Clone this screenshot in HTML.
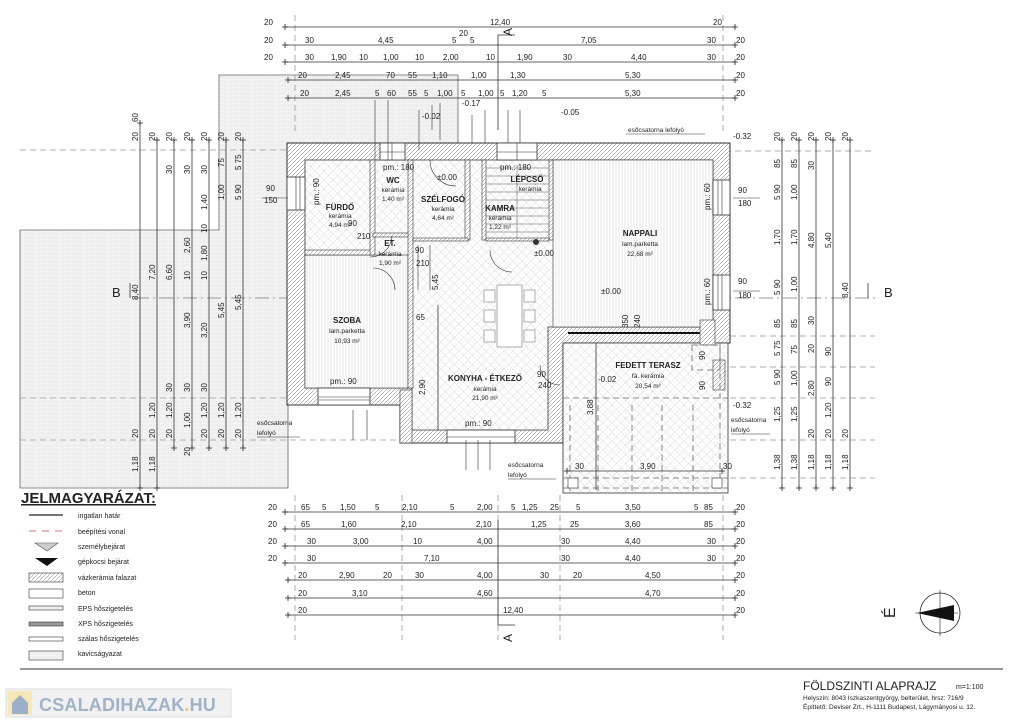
<!DOCTYPE html>
<html><head><meta charset="utf-8"><style>
html,body{margin:0;padding:0;background:#fff}
svg{display:block}
text{font-family:"Liberation Sans",sans-serif;fill:#222}
.t{font-size:8px}
.s{font-size:6.5px}
.b{font-size:8px;font-weight:bold}
.d{stroke:#333;stroke-width:0.8}
.g{stroke:#999;stroke-width:0.8;stroke-dasharray:6 4;fill:none}
</style></head><body>
<svg width="1024" height="723" viewBox="0 0 1024 723" xmlns="http://www.w3.org/2000/svg">
<defs>
<pattern id="grav" width="6" height="4" patternUnits="userSpaceOnUse"><rect width="6" height="4" fill="#f5f5f5"/><path d="M0 0H6M0 2H6M0 0V2M3 2V4" stroke="#e0e0e0" stroke-width="0.5"/></pattern>
<pattern id="wall" width="4" height="4" patternUnits="userSpaceOnUse"><rect width="4" height="4" fill="#fff"/><path d="M-1 5L5 -1" stroke="#777" stroke-width="0.5"/></pattern>
<pattern id="cross" width="9" height="9" patternUnits="userSpaceOnUse"><rect width="9" height="9" fill="#fff"/><path d="M0 0L9 9M9 0L0 9" stroke="#d4d4d4" stroke-width="0.5"/></pattern>
<pattern id="parq" width="3" height="10" patternUnits="userSpaceOnUse"><rect width="3" height="10" fill="#fff"/><path d="M1 0V10" stroke="#d0d0d0" stroke-width="0.5"/></pattern>
<marker id="tk" markerWidth="6" markerHeight="6" refX="3" refY="3" markerUnits="userSpaceOnUse"><path d="M0 3H6M3 0V6" stroke="#222" stroke-width="0.8"/></marker>
</defs>

<polygon points="20,230 219,230 219,75 458,75 458,143 288,143 288,488 20,488" fill="url(#grav)" stroke="#666" stroke-width="0.8"/>

<g class="g">
<line x1="20" y1="150" x2="290" y2="150"/><line x1="725" y1="151" x2="875" y2="151"/>
<line x1="20" y1="398" x2="290" y2="398"/><line x1="720" y1="398" x2="875" y2="398"/>
<line x1="20" y1="440" x2="400" y2="440"/><line x1="720" y1="440" x2="875" y2="440"/>
<line x1="720" y1="336" x2="875" y2="336"/><line x1="720" y1="367" x2="875" y2="367"/><line x1="720" y1="478" x2="875" y2="478"/>
<line x1="295" y1="15" x2="295" y2="135"/><line x1="723" y1="15" x2="723" y2="135"/>
<line x1="295" y1="495" x2="295" y2="640"/><line x1="402" y1="495" x2="402" y2="640"/><line x1="560" y1="495" x2="560" y2="640"/><line x1="723" y1="495" x2="723" y2="640"/>
<line x1="498" y1="495" x2="498" y2="640"/>
</g>
<line x1="135" y1="298" x2="875" y2="298" stroke="#777" stroke-width="0.8" stroke-dasharray="14 4 2 4"/>
<text x="112" y="297" style="font-size:13px">B</text><text x="884" y="297" style="font-size:13px">B</text>
<path d="M130 298V283M868 298V283" stroke="#333" stroke-width="0.8"/>
<path d="M498 35H515M498 35V130" stroke="#333" stroke-width="0.8"/>
<path d="M498 625H515M498 520V625" stroke="#333" stroke-width="0.8"/>
<text class="t" transform="rotate(-90 512 36)" x="512" y="36" style="font-size:12px">A</text>
<text class="t" transform="rotate(-90 512 642)" x="512" y="642" style="font-size:12px">A</text>

<polygon points="287,143 730,143 730,343 563,343 563,443 400,443 400,405 287,405" fill="url(#wall)" stroke="#333" stroke-width="1"/>
<polygon points="305,160 713,160 713,327 548,327 548,430 412,430 412,388 305,388" fill="url(#cross)" stroke="#333" stroke-width="0.8"/>
<rect x="305" y="255" width="103" height="133" fill="url(#parq)" stroke="#333" stroke-width="0.6"/>
<rect x="553" y="160" width="160" height="167" fill="url(#parq)" stroke="#333" stroke-width="0.6"/>
<g fill="url(#wall)" stroke="#333" stroke-width="0.6">
<rect x="305" y="250" width="68" height="5"/>
<rect x="370" y="160" width="5" height="95"/>
<rect x="408" y="160" width="5" height="228"/>
<rect x="373" y="233" width="35" height="4"/>
<rect x="465" y="160" width="5" height="80"/>
<rect x="482" y="160" width="4" height="80"/>
<rect x="549" y="160" width="4" height="80"/>
<rect x="413" y="238" width="55" height="3"/>
<rect x="486" y="238" width="63" height="3"/>
<rect x="400" y="390" width="12" height="53"/>
</g>
<g stroke="#555" stroke-width="0.5">
<line x1="486" y1="168" x2="549" y2="168"/><line x1="486" y1="176" x2="549" y2="176"/><line x1="486" y1="184" x2="549" y2="184"/><line x1="486" y1="192" x2="549" y2="192"/><line x1="486" y1="200" x2="549" y2="200"/><line x1="486" y1="208" x2="549" y2="208"/><line x1="486" y1="216" x2="549" y2="216"/><line x1="486" y1="224" x2="549" y2="224"/><line x1="486" y1="232" x2="549" y2="232"/>
<line x1="517" y1="165" x2="517" y2="238"/>
</g>
<circle cx="536" cy="242" r="3" fill="#333"/>
<g fill="#fff" stroke="#333" stroke-width="0.8">
<rect x="287" y="177" width="18" height="33"/>
<rect x="380" y="143" width="25" height="17"/>
<rect x="497" y="143" width="40" height="17"/>
<rect x="713" y="180" width="17" height="35"/>
<rect x="713" y="275" width="17" height="35"/>
<rect x="318" y="388" width="52" height="17"/>
<rect x="447" y="430" width="68" height="13"/>
</g>
<g stroke="#333" stroke-width="0.6" fill="none">
<path d="M296 177V210M300 177V210M392 143V160M380 152H405M517 143V160M497 152H537M722 180V215M718 180V215M722 275V310M718 275V310M318 397H370M318 400H370M447 437H515"/>
<path d="M370 257A22 22 0 0 0 392 236M373 268A22 22 0 0 1 395 290M430 160A26 26 0 0 0 456 186M490 250A22 22 0 0 0 512 272M540 365A20 20 0 0 0 560 385"/>
</g>
<g fill="#fff" stroke="#999" stroke-width="0.8">
<rect x="497" y="285" width="25" height="62"/>
<rect x="484" y="290" width="11" height="12"/><rect x="484" y="310" width="11" height="12"/><rect x="484" y="330" width="11" height="12"/>
<rect x="524" y="290" width="11" height="12"/><rect x="524" y="310" width="11" height="12"/><rect x="524" y="330" width="11" height="12"/>
</g>

<rect x="563" y="343" width="165" height="150" fill="url(#cross)" stroke="#333" stroke-width="0.8"/>
<line x1="568" y1="333" x2="700" y2="333" stroke="#111" stroke-width="2"/>
<rect x="700" y="320" width="15" height="25" fill="url(#wall)" stroke="#333" stroke-width="0.6"/>
<rect x="713" y="360" width="12" height="30" fill="url(#wall)" stroke="#333" stroke-width="0.6"/>
<g class="g" style="stroke:#666">
<line x1="563" y1="398" x2="728" y2="398"/><line x1="563" y1="478" x2="728" y2="478"/><line x1="563" y1="488" x2="728" y2="488"/>
<line x1="570" y1="405" x2="570" y2="493"/><line x1="598" y1="405" x2="598" y2="493"/><line x1="632" y1="405" x2="632" y2="493"/><line x1="662" y1="405" x2="662" y2="493"/><line x1="693" y1="405" x2="693" y2="493"/><line x1="720" y1="343" x2="720" y2="493"/>
<rect x="692" y="345" width="28" height="25"/>
</g>
<rect x="568" y="478" width="10" height="10" fill="#fff" stroke="#333" stroke-width="0.6"/>
<rect x="712" y="478" width="10" height="10" fill="#fff" stroke="#333" stroke-width="0.6"/>
<line x1="567" y1="471" x2="722" y2="471" class="d" marker-start="url(#tk)" marker-end="url(#tk)"/>
<text class="t" x="575" y="469">30</text><text class="t" x="640" y="469">3,90</text><text class="t" x="723" y="469">30</text>
<line x1="596" y1="343" x2="596" y2="490" class="d"/>
<text class="t" transform="rotate(-90 593 415)" x="593" y="415">3,88</text>
<text class="t" transform="rotate(-90 628 328)" x="628" y="328">350</text>
<text class="t" transform="rotate(-90 640 328)" x="640" y="328">240</text>
<text class="t" transform="rotate(-90 705 360)" x="705" y="360">90</text>
<text class="t" transform="rotate(-90 705 390)" x="705" y="390">90</text>

<g text-anchor="middle">
<text class="b" x="340" y="210">FÜRDŐ</text><text class="s" x="340" y="218">kerámia</text><text class="s" x="340" y="227">4,94 m²</text>
<text class="b" x="393" y="183">WC</text><text class="s" x="393" y="192">kerámia</text><text class="s" x="393" y="201">1,40 m²</text>
<text class="b" x="443" y="202">SZÉLFOGÓ</text><text class="s" x="443" y="211">kerámia</text><text class="s" x="443" y="220">4,64 m²</text>
<text class="b" x="527" y="182">LÉPCSŐ</text><text class="s" x="530" y="191">kerámia</text>
<text class="b" x="500" y="211">KAMRA</text><text class="s" x="500" y="220">kerámia</text><text class="s" x="500" y="229">1,22 m²</text>
<text class="b" x="640" y="236">NAPPALI</text><text class="s" x="640" y="246">lam.parketta</text><text class="s" x="640" y="256">22,68 m²</text>
<text class="b" x="390" y="246">ET.</text><text class="s" x="390" y="256">kerámia</text><text class="s" x="390" y="265">1,90 m²</text>
<text class="b" x="347" y="323">SZOBA</text><text class="s" x="347" y="333">lam.parketta</text><text class="s" x="347" y="343">10,93 m²</text>
<text class="b" x="485" y="381">KONYHA - ÉTKEZŐ</text><text class="s" x="485" y="391">kerámia</text><text class="s" x="485" y="400">21,90 m²</text>
<text class="b" x="648" y="368">FEDETT TERASZ</text><text class="s" x="648" y="378">fá. kerámia</text><text class="s" x="648" y="388">20,54 m²</text>
</g>
<g class="t">
<text x="330" y="384">pm.: 90</text><text x="383" y="170">pm.: 180</text><text x="500" y="170">pm.: 180</text><text x="465" y="426">pm.: 90</text>
<text x="348" y="226">90</text><text x="357" y="239">210</text><text x="415" y="253">90</text><text x="416" y="266">210</text>
<text x="537" y="377">90</text><text x="538" y="388">240</text><text x="416" y="320">65</text>
<text x="437" y="180">±0.00</text><text x="534" y="256">±0.00</text><text x="601" y="294">±0.00</text><text x="598" y="382">-0.02</text>
<text x="422" y="119">-0.02</text><text x="561" y="115">-0.05</text><text x="733" y="139">-0.32</text><text x="733" y="408">-0.32</text><text x="462" y="106">-0.17</text>
<text x="266" y="191">90</text><text x="264" y="203">150</text>
<text x="738" y="193">90</text><text x="738" y="206">180</text><text x="738" y="284">90</text><text x="738" y="298">180</text>
</g>
<text class="t" transform="rotate(-90 319 205)" x="319" y="205">pm.: 90</text>
<text class="t" transform="rotate(-90 710 210)" x="710" y="210">pm.: 60</text>
<text class="t" transform="rotate(-90 710 305)" x="710" y="305">pm.: 60</text>
<text class="t" transform="rotate(-90 438 290)" x="438" y="290">5,45</text>
<text class="t" transform="rotate(-90 425 395)" x="425" y="395">2,90</text>
<path d="M262 198H288M733 198H760M733 291H760" stroke="#333" stroke-width="0.6"/>
<line x1="438" y1="305" x2="438" y2="430" class="d"/>
<g class="s">
<text x="628" y="132">esőcsatorna lefolyó</text><line x1="626" y1="134" x2="705" y2="134" stroke="#333" stroke-width="0.5"/>
<text x="257" y="425">esőcsatorna</text><text x="257" y="435">lefolyó</text><line x1="257" y1="437" x2="300" y2="437" stroke="#333" stroke-width="0.5"/>
<text x="508" y="467">esőcsatorna</text><text x="508" y="477">lefolyó</text><line x1="508" y1="479" x2="556" y2="479" stroke="#333" stroke-width="0.5"/>
<text x="731" y="422">esőcsatorna</text><text x="731" y="432">lefolyó</text><line x1="731" y1="434" x2="770" y2="434" stroke="#333" stroke-width="0.5"/>
</g>
<g stroke="#333" stroke-width="0.6">
<path d="M375 100V160M388 100V160M419 110V150M472 115V143M485 110V143M508 110V143M520 110V143M432 105V130M440 103V140"/>
<path d="M418 245V290M430 245V290M353 410V440M367 410V440M466 440V470M478 440V470M490 440V470"/>
</g>

<g class="d" marker-start="url(#tk)" marker-end="url(#tk)">
<line x1="285" y1="27" x2="735" y2="27"/><line x1="285" y1="45" x2="735" y2="45"/><line x1="285" y1="62" x2="735" y2="62"/><line x1="288" y1="80" x2="735" y2="80"/><line x1="288" y1="98" x2="735" y2="98"/>
<line x1="285" y1="512" x2="735" y2="512"/><line x1="285" y1="529" x2="735" y2="529"/><line x1="285" y1="546" x2="735" y2="546"/><line x1="285" y1="563" x2="735" y2="563"/><line x1="288" y1="580" x2="735" y2="580"/><line x1="288" y1="598" x2="735" y2="598"/><line x1="288" y1="615" x2="735" y2="615"/>
</g>
<g class="t">
<text x="264" y="25">20</text><text x="490" y="25">12,40</text><text x="713" y="25">20</text>
<text x="264" y="43">20</text><text x="305" y="43">30</text><text x="378" y="43">4,45</text><text x="452" y="43">5</text><text x="459" y="36">20</text><text x="470" y="43">5</text><text x="581" y="43">7,05</text><text x="707" y="43">30</text><text x="736" y="43">20</text>
<text x="264" y="60">20</text><text x="305" y="60">30</text><text x="331" y="60">1,90</text><text x="359" y="60">10</text><text x="383" y="60">1,00</text><text x="415" y="60">10</text><text x="443" y="60">2,00</text><text x="486" y="60">10</text><text x="517" y="60">1,90</text><text x="563" y="60">30</text><text x="631" y="60">4,40</text><text x="707" y="60">30</text><text x="736" y="60">20</text>
<text x="298" y="78">20</text><text x="335" y="78">2,45</text><text x="386" y="78">70</text><text x="408" y="78">55</text><text x="432" y="78">1,10</text><text x="471" y="78">1,00</text><text x="510" y="78">1,30</text><text x="625" y="78">5,30</text><text x="736" y="78">20</text>
<text x="300" y="96">20</text><text x="335" y="96">2,45</text><text x="375" y="96">5</text><text x="387" y="96">60</text><text x="408" y="96">55</text><text x="424" y="96">5</text><text x="437" y="96">1,00</text><text x="461" y="96">5</text><text x="478" y="96">1,00</text><text x="500" y="96">5</text><text x="512" y="96">1,20</text><text x="542" y="96">5</text><text x="625" y="96">5,30</text><text x="736" y="96">20</text>

<text x="268" y="510">20</text><text x="301" y="510">65</text><text x="322" y="510">5</text><text x="340" y="510">1,50</text><text x="375" y="510">5</text><text x="402" y="510">2,10</text><text x="450" y="510">5</text><text x="477" y="510">2,00</text><text x="511" y="510">5</text><text x="522" y="510">1,25</text><text x="550" y="510">25</text><text x="576" y="510">5</text><text x="625" y="510">3,50</text><text x="694" y="510">5</text><text x="704" y="510">85</text><text x="736" y="510">20</text>
<text x="268" y="527">20</text><text x="301" y="527">65</text><text x="341" y="527">1,60</text><text x="401" y="527">2,10</text><text x="476" y="527">2,10</text><text x="531" y="527">1,25</text><text x="570" y="527">25</text><text x="625" y="527">3,60</text><text x="704" y="527">85</text><text x="736" y="527">20</text>
<text x="268" y="544">20</text><text x="307" y="544">30</text><text x="353" y="544">3,00</text><text x="413" y="544">10</text><text x="477" y="544">4,00</text><text x="561" y="544">30</text><text x="625" y="544">4,40</text><text x="707" y="544">30</text><text x="736" y="544">20</text>
<text x="268" y="561">20</text><text x="307" y="561">30</text><text x="424" y="561">7,10</text><text x="561" y="561">30</text><text x="625" y="561">4,40</text><text x="707" y="561">30</text><text x="736" y="561">20</text>
<text x="298" y="578">20</text><text x="339" y="578">2,90</text><text x="383" y="578">20</text><text x="415" y="578">30</text><text x="477" y="578">4,00</text><text x="540" y="578">30</text><text x="573" y="578">20</text><text x="645" y="578">4,50</text><text x="736" y="578">20</text>
<text x="298" y="596">20</text><text x="352" y="596">3,10</text><text x="477" y="596">4,60</text><text x="645" y="596">4,70</text><text x="736" y="596">20</text>
<text x="298" y="613">20</text><text x="503" y="613">12,40</text><text x="736" y="613">20</text>
</g>

<g class="d" marker-start="url(#tk)" marker-end="url(#tk)">
<line x1="140" y1="123" x2="140" y2="488"/><line x1="157" y1="140" x2="157" y2="488"/><line x1="174" y1="140" x2="174" y2="448"/><line x1="192" y1="140" x2="192" y2="448"/><line x1="209" y1="140" x2="209" y2="448"/><line x1="226" y1="140" x2="226" y2="448"/><line x1="243" y1="140" x2="243" y2="448"/>
<line x1="782" y1="140" x2="782" y2="488"/><line x1="799" y1="140" x2="799" y2="488"/><line x1="816" y1="140" x2="816" y2="488"/><line x1="833" y1="140" x2="833" y2="488"/><line x1="850" y1="140" x2="850" y2="488"/>
</g>
<g class="t">
<text transform="rotate(-90 138 122)" x="138" y="122">60</text>
<text transform="rotate(-90 138 141)" x="138" y="141">20</text><text transform="rotate(-90 155 141)" x="155" y="141">20</text><text transform="rotate(-90 172 141)" x="172" y="141">20</text><text transform="rotate(-90 190 141)" x="190" y="141">20</text><text transform="rotate(-90 207 141)" x="207" y="141">20</text><text transform="rotate(-90 224 141)" x="224" y="141">20</text><text transform="rotate(-90 241 141)" x="241" y="141">20</text>
<text transform="rotate(-90 138 300)" x="138" y="300">8,40</text><text transform="rotate(-90 155 280)" x="155" y="280">7,20</text><text transform="rotate(-90 172 280)" x="172" y="280">6,60</text>
<text transform="rotate(-90 172 174)" x="172" y="174">30</text><text transform="rotate(-90 190 174)" x="190" y="174">30</text><text transform="rotate(-90 207 174)" x="207" y="174">30</text>
<text transform="rotate(-90 190 253)" x="190" y="253">2,60</text><text transform="rotate(-90 190 280)" x="190" y="280">10</text><text transform="rotate(-90 190 328)" x="190" y="328">3,90</text>
<text transform="rotate(-90 207 210)" x="207" y="210">1,40</text><text transform="rotate(-90 207 233)" x="207" y="233">10</text><text transform="rotate(-90 207 261)" x="207" y="261">1,80</text><text transform="rotate(-90 207 280)" x="207" y="280">10</text><text transform="rotate(-90 207 338)" x="207" y="338">3,20</text>
<text transform="rotate(-90 224 167)" x="224" y="167">75</text><text transform="rotate(-90 224 200)" x="224" y="200">1,00</text><text transform="rotate(-90 224 318)" x="224" y="318">5,45</text>
<text transform="rotate(-90 241 170)" x="241" y="170">5 75</text><text transform="rotate(-90 241 200)" x="241" y="200">5 90</text><text transform="rotate(-90 241 310)" x="241" y="310">5,45</text>
<text transform="rotate(-90 172 392)" x="172" y="392">30</text><text transform="rotate(-90 190 392)" x="190" y="392">30</text><text transform="rotate(-90 207 392)" x="207" y="392">30</text>
<text transform="rotate(-90 155 418)" x="155" y="418">1,20</text><text transform="rotate(-90 172 418)" x="172" y="418">1,20</text><text transform="rotate(-90 190 428)" x="190" y="428">1,00</text><text transform="rotate(-90 207 418)" x="207" y="418">1,20</text><text transform="rotate(-90 224 418)" x="224" y="418">1,20</text><text transform="rotate(-90 241 418)" x="241" y="418">1,20</text>
<text transform="rotate(-90 138 438)" x="138" y="438">20</text><text transform="rotate(-90 155 438)" x="155" y="438">20</text><text transform="rotate(-90 172 438)" x="172" y="438">20</text><text transform="rotate(-90 190 456)" x="190" y="456">20</text><text transform="rotate(-90 207 438)" x="207" y="438">20</text><text transform="rotate(-90 224 438)" x="224" y="438">20</text><text transform="rotate(-90 241 438)" x="241" y="438">20</text>
<text transform="rotate(-90 138 472)" x="138" y="472">1,18</text><text transform="rotate(-90 155 472)" x="155" y="472">1,18</text>

<text transform="rotate(-90 780 141)" x="780" y="141">20</text><text transform="rotate(-90 797 141)" x="797" y="141">20</text><text transform="rotate(-90 814 141)" x="814" y="141">20</text><text transform="rotate(-90 831 141)" x="831" y="141">20</text><text transform="rotate(-90 848 141)" x="848" y="141">20</text>
<text transform="rotate(-90 780 168)" x="780" y="168">85</text><text transform="rotate(-90 780 200)" x="780" y="200">5 90</text><text transform="rotate(-90 780 245)" x="780" y="245">1,70</text><text transform="rotate(-90 780 295)" x="780" y="295">5 90</text><text transform="rotate(-90 780 328)" x="780" y="328">85</text><text transform="rotate(-90 780 356)" x="780" y="356">5 75</text><text transform="rotate(-90 780 385)" x="780" y="385">5 90</text><text transform="rotate(-90 780 422)" x="780" y="422">1,25</text><text transform="rotate(-90 780 470)" x="780" y="470">1,38</text>
<text transform="rotate(-90 797 168)" x="797" y="168">85</text><text transform="rotate(-90 797 200)" x="797" y="200">1,00</text><text transform="rotate(-90 797 245)" x="797" y="245">1,70</text><text transform="rotate(-90 797 292)" x="797" y="292">1,00</text><text transform="rotate(-90 797 328)" x="797" y="328">85</text><text transform="rotate(-90 797 354)" x="797" y="354">75</text><text transform="rotate(-90 797 386)" x="797" y="386">1,00</text><text transform="rotate(-90 797 422)" x="797" y="422">1,25</text><text transform="rotate(-90 797 470)" x="797" y="470">1,38</text>
<text transform="rotate(-90 814 170)" x="814" y="170">30</text><text transform="rotate(-90 814 248)" x="814" y="248">4,80</text><text transform="rotate(-90 814 325)" x="814" y="325">30</text><text transform="rotate(-90 814 353)" x="814" y="353">20</text><text transform="rotate(-90 814 396)" x="814" y="396">2,80</text><text transform="rotate(-90 814 438)" x="814" y="438">20</text><text transform="rotate(-90 814 470)" x="814" y="470">1,18</text>
<text transform="rotate(-90 831 248)" x="831" y="248">5,40</text><text transform="rotate(-90 831 356)" x="831" y="356">90</text><text transform="rotate(-90 831 386)" x="831" y="386">90</text><text transform="rotate(-90 831 418)" x="831" y="418">1,20</text><text transform="rotate(-90 831 438)" x="831" y="438">20</text><text transform="rotate(-90 831 470)" x="831" y="470">1,18</text>
<text transform="rotate(-90 848 298)" x="848" y="298">8,40</text><text transform="rotate(-90 848 438)" x="848" y="438">20</text><text transform="rotate(-90 848 470)" x="848" y="470">1,18</text>
</g>

<text x="21" y="503" style="font-size:15px;font-weight:bold;text-decoration:underline">JELMAGYARÁZAT:</text>
<g style="font-size:7px">
<text x="78" y="518">ingatlan határ</text><text x="78" y="534">beépítési vonal</text><text x="78" y="549">személybejárat</text><text x="78" y="564">gépkocsi bejárat</text><text x="78" y="580">vázkerámia falazat</text><text x="78" y="595">beton</text><text x="78" y="611">EPS hőszigetelés</text><text x="78" y="626">XPS hőszigetelés</text><text x="78" y="641">szálas hőszigetelés</text><text x="78" y="656">kavicságyazat</text>
</g>
<line x1="29" y1="515" x2="63" y2="515" stroke="#222" stroke-width="1.2"/>
<line x1="29" y1="531" x2="63" y2="531" stroke="#c44" stroke-width="0.8" stroke-dasharray="7 6"/>
<polygon points="35,543 58,543 47,551" fill="#ccc" stroke="#555" stroke-width="0.6"/>
<polygon points="35,558 58,558 47,566" fill="#111"/>
<rect x="29" y="573" width="34" height="9" fill="url(#wall)" stroke="#333" stroke-width="0.6"/>
<rect x="29" y="589" width="34" height="9" fill="#fff" stroke="#333" stroke-width="0.6"/>
<rect x="29" y="606" width="34" height="4" fill="#eee" stroke="#333" stroke-width="0.6"/>
<rect x="29" y="622" width="34" height="4" fill="#999" stroke="#333" stroke-width="0.6"/>
<rect x="29" y="637" width="34" height="4" fill="#fff" stroke="#333" stroke-width="0.6"/>
<rect x="29" y="651" width="34" height="9" fill="url(#grav)" stroke="#333" stroke-width="0.6"/>
<line x1="20" y1="669" x2="1003" y2="669" stroke="#999" stroke-width="2"/>

<circle cx="940" cy="613" r="20" fill="none" stroke="#222" stroke-width="0.8"/>
<path d="M940 590V636M915 613H958" stroke="#222" stroke-width="0.6"/>
<polygon points="917,613 954,605 954,621" fill="#111"/>
<text transform="rotate(-90 895 618)" x="895" y="618" style="font-size:16px">É</text>

<text x="803" y="690" style="font-size:12px">FÖLDSZINTI ALAPRAJZ</text>
<text x="956" y="689" style="font-size:7px">m=1:100</text>
<text x="803" y="700" style="font-size:6.5px">Helyszín: 8043 Iszkaszentgyörgy, belterület, hrsz: 716/9</text>
<text x="803" y="709" style="font-size:6.5px">Építtető: Deviser Zrt., H-1111 Budapest, Lágymányosi u. 12.</text>

<rect x="6" y="689" width="225" height="28" fill="#f1f1f1" stroke="#ddd"/>
<rect x="8" y="691" width="24" height="24" fill="#f5e7b8"/>
<path d="M12 703L20 695L28 703V714H12Z" fill="#9ab0c8"/>
<text x="39" y="711" style="font-size:18px;font-weight:bold;fill:#9fb3c8;letter-spacing:0.2px">CSALADIHAZAK<tspan style="fill:#e8c870">.</tspan>HU</text>
</svg>
</body></html>
